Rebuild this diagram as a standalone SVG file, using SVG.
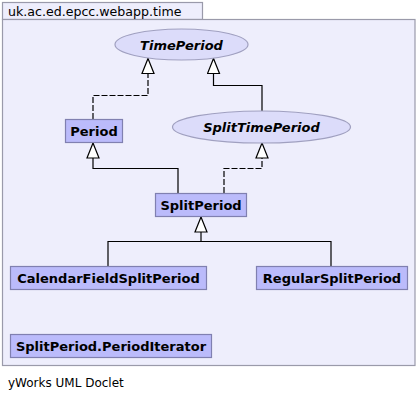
<svg xmlns="http://www.w3.org/2000/svg" width="418" height="403" viewBox="0 0 418 403">
<defs>
<marker id="tri" markerWidth="18" markerHeight="14" refX="17" refY="7" orient="auto" markerUnits="userSpaceOnUse" viewBox="0 0 18 14">
<path d="M17,7 L2,1 L2,13 Z" fill="#ffffff" stroke="#000000" stroke-width="1.2"/>
</marker>
<style>
.pkg{fill:#eeeefc;stroke:#9a9aaa;stroke-width:1.2}
.cls{fill:#bbbbfb;stroke:#8080b0;stroke-width:1.2}
.ifc{fill:#dcdcfa;stroke:#a0a0c0;stroke-width:1.2}
.t{font-family:"DejaVu Sans",sans-serif;font-size:13px;font-weight:bold;fill:#000;text-anchor:middle}
.ti{font-family:"DejaVu Sans",sans-serif;font-size:13px;font-weight:bold;font-style:italic;fill:#000;text-anchor:middle}
.lbl{font-family:"DejaVu Sans",sans-serif;font-size:12.6px;fill:#000}
.ft{font-family:"DejaVu Sans",sans-serif;font-size:12px;fill:#000}
.e{fill:none;stroke:#000;stroke-width:1.2}
.d{stroke-dasharray:6,2}
</style>
</defs>
<g id="package">
<rect class="pkg" x="2.5" y="2.5" width="200" height="17"/>
<rect class="pkg" x="2.5" y="19.5" width="412.5" height="346"/>
<text class="lbl" x="8" y="16">uk.ac.ed.epcc.webapp.time</text>
</g>
<g id="connectors">
<polyline class="e d" points="93,119 93,95.5 148,95.5 148,58.5" marker-end="url(#tri)"/>
<polyline class="e" points="262,111 262,85.5 213.5,85.5 213.5,58.5" marker-end="url(#tri)"/>
<polyline class="e" points="178,193 178,168.5 93,168.5 93,143" marker-end="url(#tri)"/>
<polyline class="e d" points="224,193 224,168.5 262,168.5 262,143" marker-end="url(#tri)"/>
<polyline class="e" points="108,266 108,241.5 331,241.5 331,266"/>
<polyline class="e" points="201,241.5 201,217" marker-end="url(#tri)"/>
</g>
<g id="TimePeriod">
<ellipse class="ifc" cx="181.5" cy="44.5" rx="66.5" ry="15.5"/>
<text class="ti" x="181.5" y="49.5">TimePeriod</text>
</g>
<g id="SplitTimePeriod">
<ellipse class="ifc" cx="261.5" cy="127" rx="89" ry="16"/>
<text class="ti" x="261.5" y="132">SplitTimePeriod</text>
</g>
<g id="Period">
<rect class="cls" x="65.5" y="119.5" width="57" height="23"/>
<text class="t" x="94" y="136">Period</text>
</g>
<g id="SplitPeriod">
<rect class="cls" x="155.5" y="193.5" width="91" height="23"/>
<text class="t" x="201" y="210">SplitPeriod</text>
</g>
<g id="CalendarFieldSplitPeriod">
<rect class="cls" x="10.5" y="266.5" width="196" height="23"/>
<text class="t" x="108.5" y="283">CalendarFieldSplitPeriod</text>
</g>
<g id="RegularSplitPeriod">
<rect class="cls" x="256.5" y="266.5" width="151" height="23"/>
<text class="t" x="332" y="283">RegularSplitPeriod</text>
</g>
<g id="PeriodIterator">
<rect class="cls" x="10.5" y="334.5" width="201" height="23"/>
<text class="t" x="111" y="351">SplitPeriod.PeriodIterator</text>
</g>
<text class="ft" x="8" y="387">yWorks UML Doclet</text>
</svg>
